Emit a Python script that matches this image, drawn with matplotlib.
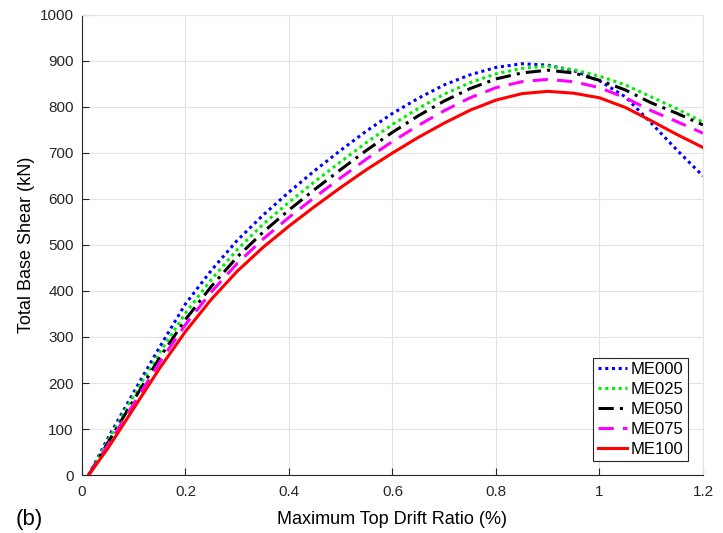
import matplotlib
matplotlib.use("Agg")
import matplotlib.pyplot as plt

plt.rcParams['font.family'] = ['Liberation Sans', 'DejaVu Sans']

drift = [0.013, 0.05, 0.1, 0.15, 0.2, 0.25, 0.3, 0.35, 0.4, 0.45, 0.5, 0.55, 0.6,
         0.65, 0.7, 0.75, 0.8, 0.85, 0.9, 0.95, 1.0, 1.05, 1.1, 1.15, 1.2]

me000 = [0, 80, 180, 278, 372, 445, 510, 565, 615, 662, 706, 748, 786,
         819, 848, 870, 886, 894, 891, 879, 857, 822, 765, 706, 650]
me025 = [0, 75, 172, 266, 352, 425, 490, 545, 593, 638, 681, 723, 762,
         797, 828, 853, 872, 884, 889, 881, 867, 848, 822, 796, 767]
me050 = [0, 70, 163, 255, 338, 410, 474, 528, 576, 621, 664, 706, 745,
         781, 813, 840, 861, 874, 880, 874, 858, 837, 809, 786, 761]
me075 = [0, 65, 155, 245, 327, 398, 460, 513, 560, 604, 646, 687, 725,
         760, 792, 820, 842, 855, 860, 855, 842, 820, 792, 768, 743]
me100 = [0, 58, 145, 232, 312, 382, 443, 495, 541, 584, 625, 664, 700,
         734, 765, 793, 815, 829, 834, 830, 820, 799, 770, 740, 712]

fig = plt.figure(figsize=(7.23, 5.33), dpi=100)
ax = fig.add_axes([0.1134, 0.1088, 0.8589, 0.8631])

ax.plot(drift, me000, color='#0000ff', linestyle=(0, (1, 1.2)), lw=2.2, label='ME000')
ax.plot(drift, me025, color='#00ee00', linestyle=(0, (1, 1.2)), lw=2.2, label='ME025')
ax.plot(drift, me050, color='black', linestyle=(0, (5, 2, 1, 2)), lw=2.2, label='ME050')
ax.plot(drift, me075, color='#ff00ff', linestyle=(0, (5, 3)), lw=2.2, label='ME075')
ax.plot(drift, me100, color='#ff0000', linestyle='-', lw=2.2, label='ME100')

ax.set_xlim(0, 1.2)
ax.set_ylim(0, 1000)
ax.set_xticks([0, 0.2, 0.4, 0.6, 0.8, 1, 1.2])
ax.set_xticklabels(['0', '0.2', '0.4', '0.6', '0.8', '1', '1.2'])
ax.set_yticks(range(0, 1001, 100))
ax.grid(True, color='#e3e3e3', lw=0.8)
ax.set_axisbelow(True)
ax.tick_params(direction='in', labelsize=11, length=5, colors='#262626', top=False, right=False)
ax.tick_params(axis='x', pad=7)
ax.tick_params(axis='y', pad=6)
for s in ax.spines.values():
    s.set_color('#262626')
    s.set_linewidth(0.8)
ax.spines['top'].set_color('#e3e3e3')
ax.spines['right'].set_color('#e3e3e3')

ax.set_xlabel('Maximum Top Drift Ratio (%)', fontsize=13, labelpad=9)
ax.set_ylabel('Total Base Shear (kN)', fontsize=13, labelpad=3)

leg = ax.legend(loc='lower right', bbox_to_anchor=(0.9758, 0.03), fontsize=12,
                fancybox=False, framealpha=1, edgecolor='#262626', handlelength=1.75,
                borderpad=0.25, labelspacing=0.3, handletextpad=0.25, borderaxespad=0)
leg.get_frame().set_linewidth(0.8)

fig.text(0.022, 0.026, '(b)', fontsize=16, va='center')

fig.savefig('out.png', dpi=100)
